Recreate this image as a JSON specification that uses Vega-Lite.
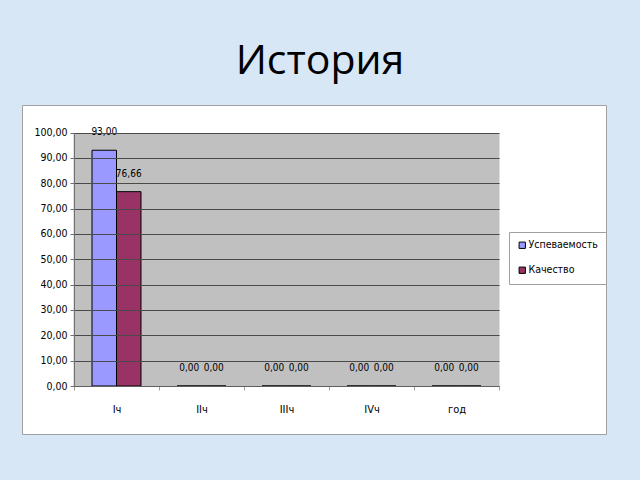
{
  "$schema": "https://vega.github.io/schema/vega-lite/v6.json",
  "width": 584,
  "height": 329,
  "autosize": {"type": "none"},
  "padding": {"left": 22, "top": 105, "right": 34, "bottom": 46},
  "background": "#d8e7f6",
  "title": {
    "text": "История",
    "font": "Open Sans",
    "fontSize": 41,
    "fontWeight": "normal",
    "color": "#000000",
    "anchor": "middle",
    "baseline": "alphabetic",
    "offset": 29,
    "dx": 6,
    "dy": 39
  },
  "config": {
    "locale": {"number": {"decimal": ",", "thousands": " ", "grouping": [3], "currency": ["", ""]}},
    "view": {"fill": "#ffffff", "stroke": "#a0a0a0", "strokeWidth": 1},
    "font": "DejaVu Sans Condensed, DejaVu Sans, sans-serif"
  },
  "data": {
    "values": [
      {"period": "Iч", "series": "Успеваемость", "value": 93.0},
      {"period": "Iч", "series": "Качество", "value": 76.66},
      {"period": "IIч", "series": "Успеваемость", "value": 0},
      {"period": "IIч", "series": "Качество", "value": 0},
      {"period": "IIIч", "series": "Успеваемость", "value": 0},
      {"period": "IIIч", "series": "Качество", "value": 0},
      {"period": "IVч", "series": "Успеваемость", "value": 0},
      {"period": "IVч", "series": "Качество", "value": 0},
      {"period": "год", "series": "Успеваемость", "value": 0},
      {"period": "год", "series": "Качество", "value": 0}
    ]
  },
  "layer": [
    {
      "mark": {"type": "bar", "stroke": "#000000", "strokeWidth": 1, "zindex": 2},
      "encoding": {
        "x": {
          "field": "period",
          "type": "nominal",
          "sort": ["Iч", "IIч", "IIIч", "IVч", "год"],
          "scale": {"range": [52, 477], "paddingInner": 0, "paddingOuter": 0},
          "axis": {
            "orient": "bottom",
            "offset": -48,
            "title": null,
            "grid": false,
            "labelAngle": 0,
            "labelFontSize": 11,
            "labelColor": "#000000",
            "labelPadding": 13,
            "labelBaseline": "top",
            "domainColor": "#606060",
            "tickBand": "extent",
            "tickColor": "#a0a0a0",
            "tickSize": 4,
            "zindex": 1
          }
        },
        "xOffset": {
          "field": "series",
          "sort": ["Успеваемость", "Качество"],
          "scale": {"paddingInner": 0, "paddingOuter": 0.735}
        },
        "y": {
          "field": "value",
          "type": "quantitative",
          "scale": {"domain": [0, 100], "range": [281, 27.5], "nice": false},
          "axis": {
            "orient": "left",
            "offset": -52,
            "title": null,
            "values": [0, 10, 20, 30, 40, 50, 60, 70, 80, 90, 100],
            "format": ".2f",
            "labelFontSize": 10.5,
            "labelColor": "#000000",
            "labelPadding": 3,
            "labelOverlap": false,
            "grid": true,
            "gridColor": "#4a4a4a",
            "gridWidth": 1,
            "domainColor": "#707070",
            "tickColor": "#707070",
            "tickSize": 4,
            "zindex": 1
          }
        },
        "color": {
          "field": "series",
          "type": "nominal",
          "scale": {"domain": ["Успеваемость", "Качество"], "range": ["#9999ff", "#993366"]},
          "legend": {
            "title": null,
            "orient": "none",
            "legendX": 487,
            "legendY": 127,
            "fillColor": "#ffffff",
            "strokeColor": "#a0a0a0",
            "padding": 8,
            "rowPadding": 14,
            "symbolType": "square",
            "symbolSize": 40,
            "symbolStrokeColor": "#000000",
            "symbolStrokeWidth": 1,
            "labelFontSize": 10.5,
            "labelColor": "#000000",
            "labelOffset": 1
          }
        }
      }
    },
    {
      "mark": {"type": "text", "baseline": "middle", "dy": -18, "fontSize": 10, "color": "#000000", "zindex": 2},
      "encoding": {
        "x": {
          "field": "period",
          "type": "nominal",
          "sort": ["Iч", "IIч", "IIIч", "IVч", "год"],
          "axis": {
            "orient": "top",
            "title": null,
            "grid": true,
            "gridColor": "#c0c0c0",
            "gridWidth": 86,
            "gridOpacity": 1,
            "bandPosition": 0.5,
            "domain": false,
            "ticks": false,
            "labels": false,
            "zindex": 0
          }
        },
        "xOffset": {"field": "series", "sort": ["Успеваемость", "Качество"]},
        "y": {
          "field": "value",
          "type": "quantitative",
          "axis": {
            "orient": "left",
            "offset": -52,
            "title": null,
            "values": [0, 10, 20, 30, 40, 50, 60, 70, 80, 90, 100],
            "format": ".2f",
            "labelFontSize": 10.5,
            "labelColor": "#000000",
            "labelPadding": 3,
            "labelOverlap": false,
            "grid": true,
            "gridColor": "#4a4a4a",
            "gridWidth": 1,
            "domainColor": "#707070",
            "tickColor": "#707070",
            "tickSize": 4,
            "zindex": 1
          }
        },
        "text": {"field": "value", "type": "quantitative", "format": ".2f"}
      }
    }
  ],
  "resolve": {"axis": {"x": "independent"}}
}
